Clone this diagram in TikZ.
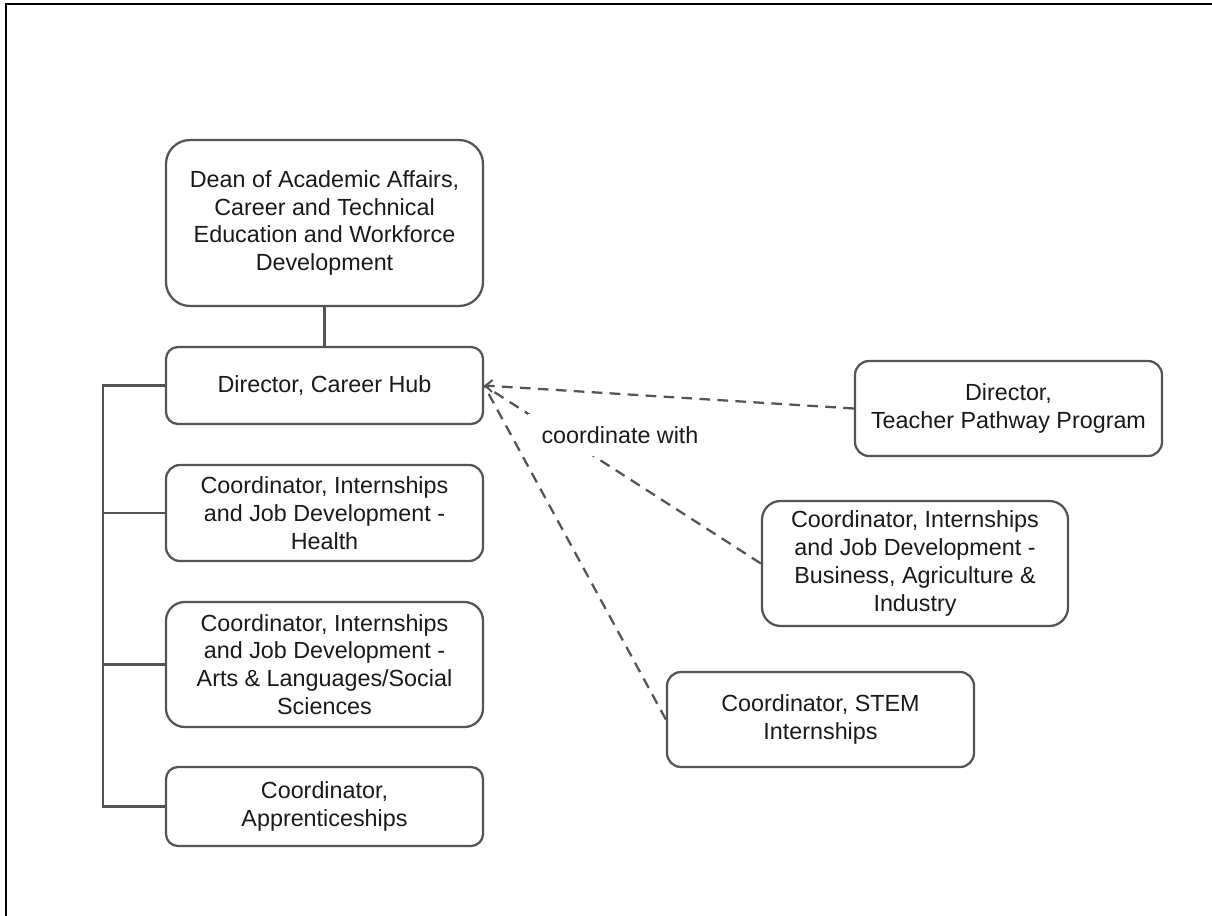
\documentclass[tikz,border=0pt]{standalone}
\usepackage{fontspec}
\setmainfont{Liberation Sans}
\usetikzlibrary{arrows.meta}
\definecolor{edgegray}{HTML}{555555}
\definecolor{ink}{HTML}{1A1A1A}
\begin{document}
\begin{tikzpicture}[x=0.75pt,y=-0.75pt,
  box/.style={draw=edgegray, line width=1.7pt, fill=white, align=center, text=ink,
    font=\fontsize{17.5}{20.8}\selectfont, inner sep=0pt},
  solidlink/.style={draw=edgegray, line width=1.7pt},
  dashlink/.style={draw=edgegray, line width=1.7pt, dash pattern=on 8pt off 5.5pt},
  lbl/.style={fill=white, text=ink, font=\fontsize{17.5}{20.8}\selectfont, inner xsep=10pt, inner ysep=9pt}
]
\useasboundingbox (0,0) rectangle (1212,916);
% page frame
\draw[line width=2pt, black] (6,916) -- (6,4) -- (1212,4);

% left column
\node[box, minimum width=237.75pt, minimum height=124.5pt, rounded corners=18pt] (dean) at (324.5,223)
  {Dean of Academic Affairs,\\Career and Technical\\Education and Workforce\\Development};
\node[box, minimum width=237.75pt, minimum height=57.75pt, rounded corners=9pt] (dir) at (324.5,385.5)
  {Director, Career Hub};
\node[box, minimum width=237.75pt, minimum height=72pt, rounded corners=10.5pt] (health) at (324.5,513)
  {Coordinator, Internships\\and Job Development -\\Health};
\node[box, minimum width=237.75pt, minimum height=93.75pt, rounded corners=14pt] (arts) at (324.5,664.5)
  {Coordinator, Internships\\and Job Development -\\Arts \& Languages/Social\\Sciences};
\node[box, minimum width=237.75pt, minimum height=59.25pt, rounded corners=9pt] (appr) at (324.5,806.5)
  {Coordinator,\\Apprenticeships};

% right column
\node[box, minimum width=230.25pt, minimum height=71.25pt, rounded corners=10.5pt] (teach) at (1008.5,408.5)
  {Director,\\Teacher Pathway Program};
\node[box, minimum width=229.5pt, minimum height=93.75pt, rounded corners=14pt] (bus) at (915,563.5)
  {Coordinator, Internships\\and Job Development -\\Business, Agriculture \&\\Industry};
\node[box, minimum width=230.25pt, minimum height=71.25pt, rounded corners=10.5pt] (stem) at (820.5,719.5)
  {Coordinator, STEM\\Internships};

% reporting lines
\coordinate (trunk) at (103,0);
\draw[solidlink] (dean.south) -- (dir.north);
\draw[solidlink] (dir.west) -- (dir.west -| trunk) -- (appr.west -| trunk) -- (appr.west);
\draw[solidlink] (health.west -| trunk) -- (health.west);
\draw[solidlink] (arts.west -| trunk) -- (arts.west);

% coordination lines
\draw[dashlink] (bus.west) -- (dir.east);
\draw[dashlink] (stem.west) -- (dir.east);
\draw[dashlink, -{Straight Barb[length=5pt,width=9pt,line width=1.5pt]}] (teach.west) -- (dir.east);

\node[lbl] (cw) at (620,435) {coordinate with};
\end{tikzpicture}
\end{document}
